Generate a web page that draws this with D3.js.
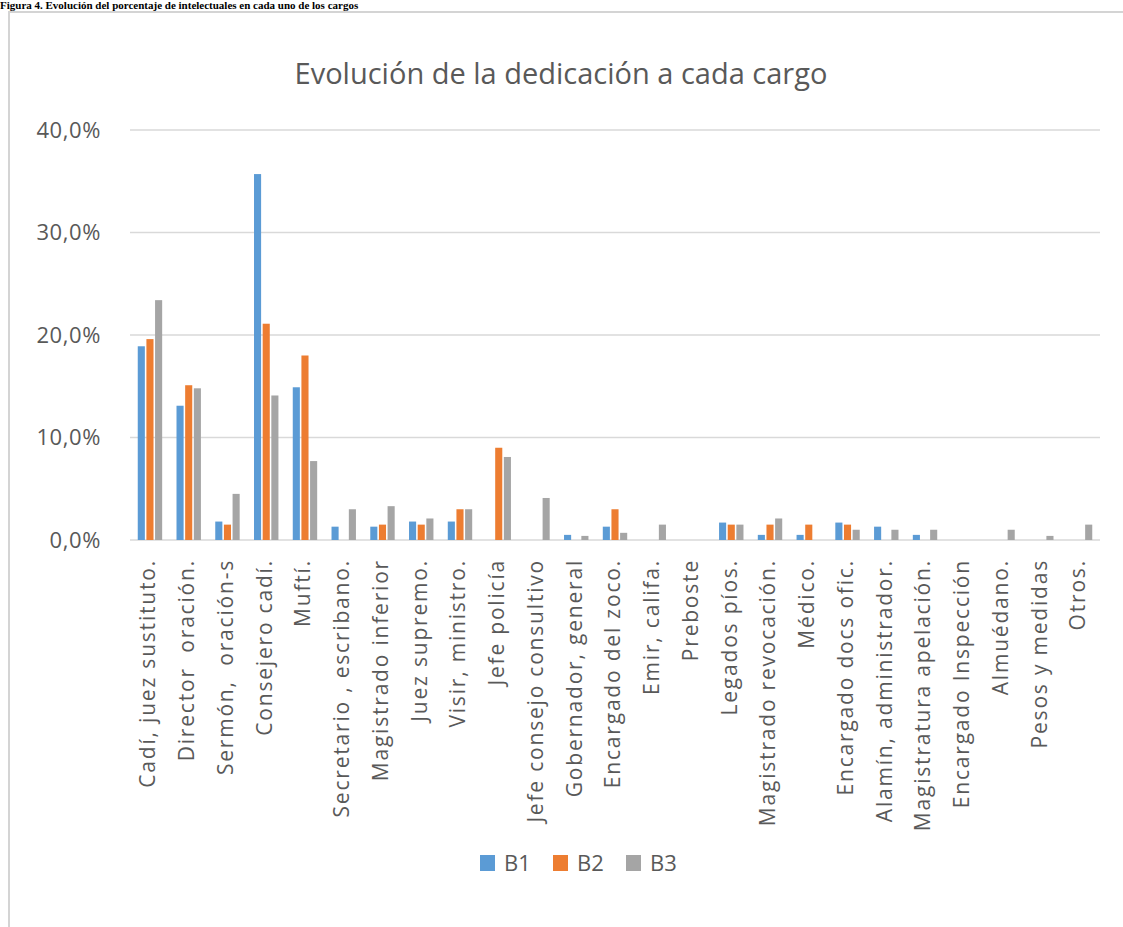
<!DOCTYPE html>
<html>
<head>
<meta charset="utf-8">
<script src="https://cdn.jsdelivr.net/npm/d3@7"></script>
<style>
  body { margin: 0; background: #fff; overflow: hidden; }
  svg { display: block; }
</style>
</head>
<body>
<div id="chart"></div>
<script>
// Categories and series (percent values)
const cargos = [
  "Cadí, juez sustituto.", "Director  oración.", "Sermón,  oración-s", "Consejero cadí.",
  "Muftí.", "Secretario , escribano.", "Magistrado inferior", "Juez supremo.",
  "Visir, ministro.", "Jefe policía", "Jefe consejo consultivo", "Gobernador, general",
  "Encargado del zoco.", "Emir, califa.", "Preboste", "Legados píos.",
  "Magistrado revocación.", "Médico.", "Encargado docs ofic.", "Alamín, administrador.",
  "Magistratura apelación.", "Encargado Inspección", "Almuédano.", "Pesos y medidas", "Otros."
];
const seriesNames = ["B1", "B2", "B3"];
const b1 = [18.9, 13.1, 1.8, 35.7, 14.9, 1.3, 1.3, 1.8, 1.8, 0, 0, 0.5, 1.3, 0, 0, 1.7, 0.5, 0.5, 1.7, 1.3, 0.5, 0, 0, 0, 0];
const b2 = [19.6, 15.1, 1.5, 21.1, 18.0, 0, 1.5, 1.5, 3.0, 9.0, 0, 0, 3.0, 0, 0, 1.5, 1.5, 1.5, 1.5, 0, 0, 0, 0, 0, 0];
const b3 = [23.4, 14.8, 4.5, 14.1, 7.7, 3.0, 3.3, 2.1, 3.0, 8.1, 4.1, 0.4, 0.7, 1.5, 0, 1.5, 2.1, 0, 1.0, 1.0, 1.0, 0, 1.0, 0.4, 1.5];
const yTicks = [0, 10, 20, 30, 40];
const colors = ["#5b9bd5", "#ed7d31", "#a5a5a5"];

const width = 1123, height = 927;
const font = "Open Sans, sans-serif";
const textColor = "#595959";

const svg = d3.select("#chart").append("svg")
    .attr("width", width)
    .attr("height", height);

// document caption above the chart box
svg.append("text")
    .attr("x", 0)
    .attr("y", 9)
    .attr("font-family", "Liberation Serif, serif")
    .attr("font-weight", "bold")
    .attr("font-size", 11)
    .attr("fill", "#000")
    .text("Figura 4. Evolución del porcentaje de intelectuales en cada uno de los cargos");

// chart box
svg.append("rect")
    .attr("x", 9)
    .attr("y", 12)
    .attr("width", width + 20)
    .attr("height", height + 20)
    .attr("fill", "#fff")
    .attr("stroke", "#d4d4d4")
    .attr("stroke-width", 2);

svg.append("text")
    .attr("x", 561)
    .attr("y", 84)
    .attr("text-anchor", "middle")
    .attr("font-family", font)
    .attr("font-size", 29)
    .attr("fill", textColor)
    .text("Evolución de la dedicación a cada cargo");

const x = d3.scaleBand()
    .domain(cargos)
    .range([130, 1100])
    .paddingInner(0.37)
    .paddingOuter(0.2);

const xs = d3.scaleBand()
    .domain(seriesNames)
    .range([0, x.bandwidth()])
    .paddingInner(0.18);

const y = d3.scaleLinear()
    .domain([0, 40])
    .range([540, 130]);

const pct = d3.formatLocale({ decimal: ",", thousands: ".", grouping: [3], currency: ["", "€"] });
const fmt = v => pct.format(".1f")(v) + "%";

// gridlines
svg.append("g")
    .selectAll("line")
    .data(yTicks)
    .enter().append("line")
    .attr("x1", 130)
    .attr("x2", 1100)
    .attr("y1", d => y(d))
    .attr("y2", d => y(d))
    .attr("stroke", "#d9d9d9")
    .attr("stroke-width", 1.6);

// y labels
svg.append("g")
    .selectAll("text")
    .data(yTicks)
    .enter().append("text")
    .attr("x", 101)
    .attr("y", d => y(d))
    .attr("dy", "0.35em")
    .attr("text-anchor", "end")
    .attr("font-family", font)
    .attr("font-size", 22)
    .attr("letter-spacing", 0.6)
    .attr("fill", textColor)
    .text(fmt);

// bars
const table = cargos.map((c, i) => ({ cargo: c, values: [b1[i], b2[i], b3[i]] }));

const groups = svg.append("g")
    .selectAll("g")
    .data(table)
    .enter().append("g")
    .attr("transform", d => `translate(${x(d.cargo)},0)`);

groups.selectAll("rect")
    .data(d => d.values.map((v, k) => ({ key: seriesNames[k], value: v, k })))
    .enter().append("rect")
    .attr("x", d => xs(d.key))
    .attr("width", xs.bandwidth())
    .attr("y", d => y(d.value))
    .attr("height", d => y(0) - y(d.value))
    .attr("fill", d => colors[d.k]);

// category labels
svg.append("g")
    .selectAll("text")
    .data(cargos)
    .enter().append("text")
    .attr("transform", d => `translate(${x(d) + x.bandwidth() / 2 - 2},559) rotate(-90)`)
    .attr("text-anchor", "end")
    .attr("dy", "0.35em")
    .attr("font-family", font)
    .attr("font-size", 21)
    .attr("letter-spacing", 1.8)
    .attr("fill", textColor)
    .style("white-space", "pre")
    .text(d => d);

// legend
const legend = svg.append("g")
    .selectAll("g")
    .data(seriesNames)
    .enter().append("g")
    .attr("transform", (d, i) => `translate(${480 + i * 73},855)`);

legend.append("rect")
    .attr("width", 15)
    .attr("height", 16)
    .attr("fill", (d, i) => colors[i]);

legend.append("text")
    .attr("x", 24)
    .attr("y", 8)
    .attr("dy", "0.35em")
    .attr("font-family", font)
    .attr("font-size", 22)
    .attr("fill", textColor)
    .text(d => d);
</script>
</body>
</html>
